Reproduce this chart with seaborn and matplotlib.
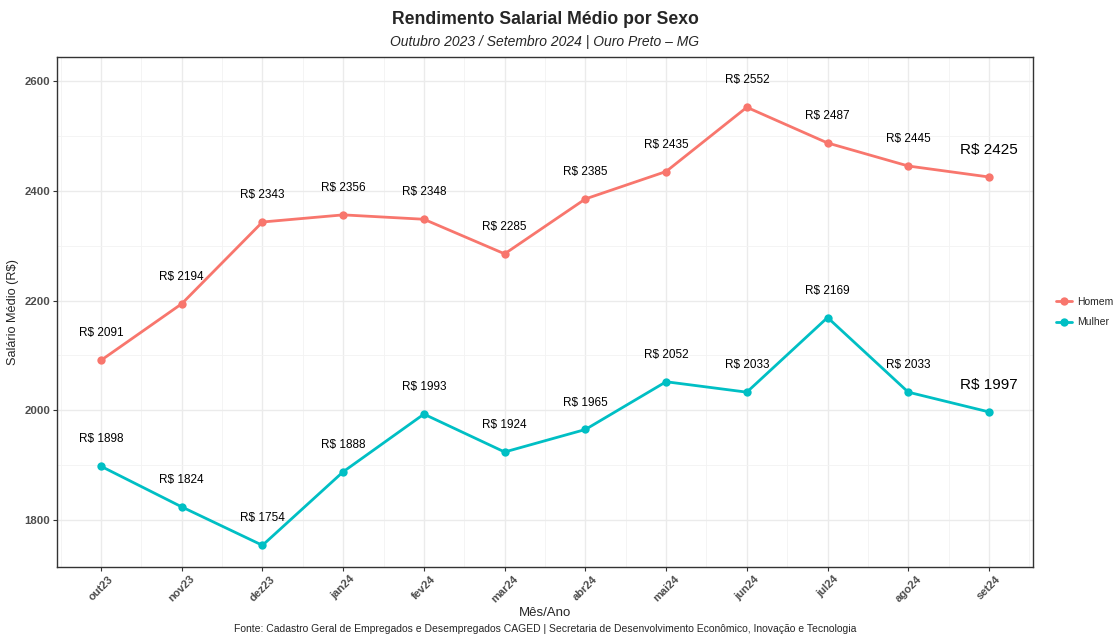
import matplotlib
matplotlib.use("Agg")
import matplotlib.pyplot as plt
import seaborn as sns
import pandas as pd

meses = ['out23', 'nov23', 'dez23', 'jan24', 'fev24', 'mar24',
         'abr24', 'mai24', 'jun24', 'jul24', 'ago24', 'set24']
homem = [2091, 2194, 2343, 2356, 2348, 2285, 2385, 2435, 2552, 2487, 2445, 2425]
mulher = [1898, 1824, 1754, 1888, 1993, 1924, 1965, 2052, 2033, 2169, 2033, 1997]
y_ticks = [1800, 2000, 2200, 2400, 2600]

cores = {'Homem': '#F8766D', 'Mulher': '#00BFC4'}


def plot_salario():
    df = pd.DataFrame({
        'pos': list(range(len(meses))) * 2,
        'Mes': meses * 2,
        'Salario': homem + mulher,
        'Sexo': ['Homem'] * len(meses) + ['Mulher'] * len(meses),
    })

    sns.set_style('white')
    plt.rcParams['font.family'] = ['Liberation Sans', 'DejaVu Sans']
    plt.rcParams['axes.unicode_minus'] = False

    fig = plt.figure(dpi=100, figsize=(11.17, 6.35))
    ax = fig.add_axes([57 / 1117, 1 - 567 / 635, (1033 - 57) / 1117, (567 - 57) / 635])

    sns.lineplot(data=df, x='pos', y='Salario', hue='Sexo', palette=cores,
                 marker='o', markersize=6, markeredgewidth=0, linewidth=2,
                 ax=ax, zorder=3)

    # labels above points, last one bigger
    for _, r in df.iterrows():
        last = r['pos'] == len(meses) - 1
        ax.text(r['pos'], r['Salario'] + 49, 'R\\$ %d' % r['Salario'],
                ha='center', va='center', fontsize=11 if last else 8.5,
                color='black', zorder=4)

    ax.set_xlim(-0.545, 11.545)
    ax.set_ylim(1714.5, 2643.6)
    ax.set_xticks(range(len(meses)))
    ax.set_xticklabels(meses, rotation=45, ha='center', fontsize=8,
                       fontweight='bold', color='#4D4D4D')
    ax.set_xticks([i - 0.5 for i in range(len(meses) + 1)], minor=True)
    ax.set_yticks(y_ticks)
    ax.set_yticklabels([str(v) for v in y_ticks], fontsize=8.2,
                       fontweight='bold', color='#4D4D4D')
    ax.set_yticks([1900, 2100, 2300, 2500], minor=True)

    ax.grid(True, which='major', color='#EBEBEB', linewidth=1.0, zorder=0)
    ax.grid(True, which='minor', color='#F3F3F3', linewidth=0.6, zorder=0)
    ax.set_axisbelow(True)
    ax.tick_params(axis='both', which='major', length=3, width=0.8,
                   color='#333333', pad=2, bottom=True, left=True)
    ax.tick_params(axis='both', which='minor', length=0)
    for s in ax.spines.values():
        s.set_color('#333333')
        s.set_linewidth(1.0)

    ax.set_xlabel('Mês/Ano', fontsize=9.5, labelpad=2)
    ax.set_ylabel('Salário Médio (R$)', fontsize=9.2, labelpad=4)

    ax.legend(loc='center left', bbox_to_anchor=(1.014, 0.5), frameon=False,
              fontsize=7.5, handlelength=1.5, handletextpad=0.5,
              labelspacing=1.0, title=None)

    fig.text(545 / 1117, 1 - 20 / 635, 'Rendimento Salarial Médio por Sexo',
             ha='center', va='center', fontsize=12.7, fontweight='bold')
    fig.text(545 / 1117, 1 - 42 / 635, 'Outubro 2023 / Setembro 2024 | Ouro Preto – MG',
             ha='center', va='center', fontsize=10, style='italic')
    fig.text(545 / 1117, 1 - 629 / 635,
             'Fonte: Cadastro Geral de Empregados e Desempregados CAGED | '
             'Secretaria de Desenvolvimento Econômico, Inovação e Tecnologia',
             ha='center', va='center', fontsize=7.5)

    plt.savefig('out.png', dpi=100)


if __name__ == '__main__':
    plot_salario()
